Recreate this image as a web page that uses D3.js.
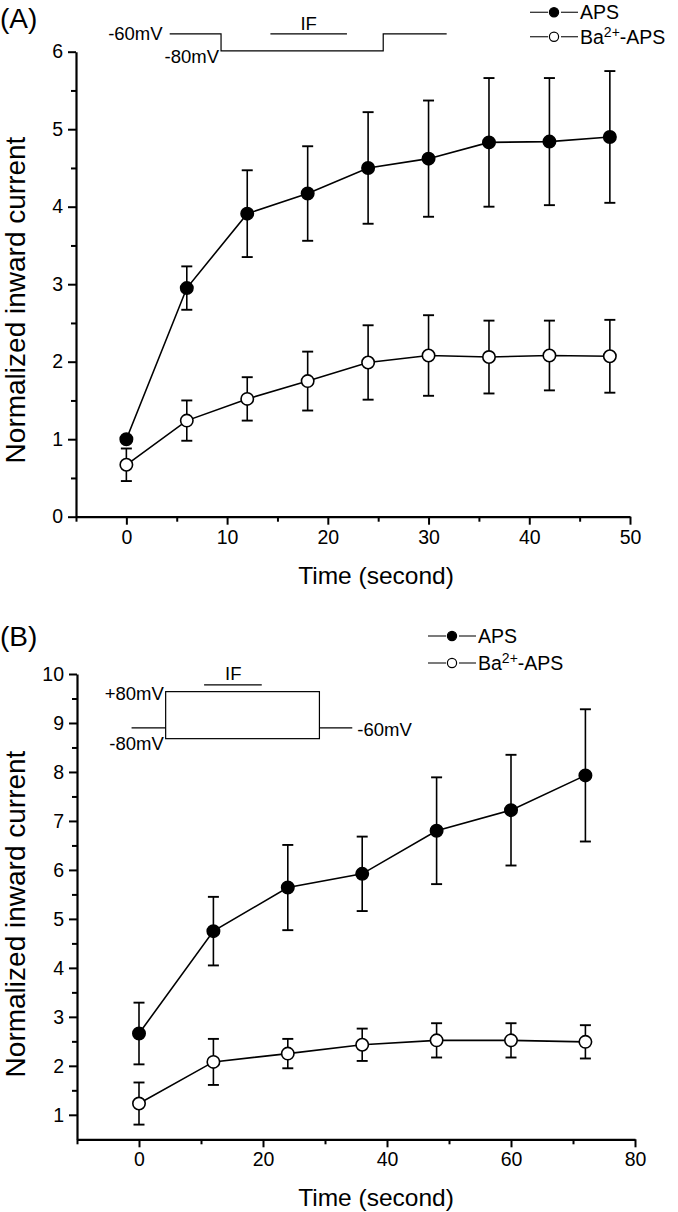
<!DOCTYPE html>
<html>
<head>
<meta charset="utf-8">
<script src="https://cdn.jsdelivr.net/npm/d3@7"></script>
<style>
  html, body { margin: 0; padding: 0; background: #fff; }
  svg { display: block; }
  text { font-family: "Liberation Sans", Arial, sans-serif; fill: #000; }
</style>
</head>
<body>
<script>
// ---------------- DATA ----------------
// Panel A
const timeA = [0, 6, 12, 18, 24, 30, 36, 42, 48];
const apsA = [1.0, 2.95, 3.91, 4.17, 4.50, 4.62, 4.83, 4.84, 4.90];
const apsErrA = [0.0, 0.28, 0.56, 0.61, 0.72, 0.75, 0.83, 0.82, 0.85];
const baA = [0.67, 1.24, 1.52, 1.75, 1.99, 2.08, 2.06, 2.08, 2.07];
const baErrA = [0.21, 0.26, 0.28, 0.38, 0.48, 0.52, 0.47, 0.45, 0.47];
const xTicksA = [0, 10, 20, 30, 40, 50];
const yTicksA = [0, 1, 2, 3, 4, 5, 6];

// Panel B
const timeB = [0, 12, 24, 36, 48, 60, 72];
const apsB = [2.66, 4.75, 5.64, 5.92, 6.80, 7.22, 7.93];
const apsErrB = [0.63, 0.70, 0.87, 0.76, 1.09, 1.13, 1.35];
const baB = [1.23, 2.08, 2.25, 2.43, 2.52, 2.52, 2.49];
const baErrB = [0.43, 0.47, 0.30, 0.33, 0.35, 0.35, 0.34];
const xTicksB = [0, 20, 40, 60, 80];
const yTicksB = [1, 2, 3, 4, 5, 6, 7, 8, 9, 10];

const seriesNames = ["APS", "Ba2+-APS"];
const yTitle = "Normalized inward current";
const xTitle = "Time (second)";

// ---------------- SVG ----------------
const W = 678, H = 1212;
const svg = d3.select("body").append("svg").attr("width", W).attr("height", H);
const INSET_FS = 18.5;

function drawPanel(cfg) {
  const g = svg.append("g");
  const x = d3.scaleLinear().domain(cfg.xDomain).range(cfg.xRange);
  const y = d3.scaleLinear().domain(cfg.yDomain).range(cfg.yRange);

  const xMinor = d3.range(cfg.xDomain[0], cfg.xDomain[1] + 0.001, cfg.xMinorStep).filter(v => !cfg.xTicks.includes(v));
  const yMinor = d3.range(cfg.yDomain[0], cfg.yDomain[1] + 0.001, cfg.yMinorStep).filter(v => !cfg.yTicks.includes(v) && v > cfg.yDomain[0] + 1e-6);

  const xAxisY = cfg.yRange[0];
  const yAxisX = cfg.xRange[0];

  // x axis
  const xa = g.append("g").attr("transform", `translate(0,${xAxisY})`)
    .call(d3.axisBottom(x).tickValues(cfg.xTicks).tickSize(8).tickSizeOuter(0).tickPadding(5).tickFormat(d3.format("d")));
  xa.select(".domain").attr("stroke-width", 2.2);
  xa.selectAll(".tick line").attr("stroke-width", 2);
  xa.selectAll(".tick text").attr("font-size", 19.5).attr("font-family", "Liberation Sans, Arial");
  g.append("g").attr("transform", `translate(0,${xAxisY})`)
    .call(d3.axisBottom(x).tickValues(xMinor).tickSize(5).tickSizeOuter(0).tickFormat(""))
    .call(s => s.select(".domain").remove())
    .selectAll(".tick line").attr("stroke-width", 2);

  // y axis
  const ya = g.append("g").attr("transform", `translate(${yAxisX},0)`)
    .call(d3.axisLeft(y).tickValues(cfg.yTicks).tickSize(8).tickSizeOuter(0).tickPadding(5).tickFormat(d3.format("d")));
  ya.select(".domain").attr("stroke-width", 2.2);
  ya.selectAll(".tick line").attr("stroke-width", 2);
  ya.selectAll(".tick text").attr("font-size", 19.5).attr("font-family", "Liberation Sans, Arial");
  g.append("g").attr("transform", `translate(${yAxisX},0)`)
    .call(d3.axisLeft(y).tickValues(yMinor).tickSize(5).tickSizeOuter(0).tickFormat(""))
    .call(s => s.select(".domain").remove())
    .selectAll(".tick line").attr("stroke-width", 2);

  // titles
  g.append("text").attr("x", cfg.xTitlePos[0]).attr("y", cfg.xTitlePos[1])
    .attr("text-anchor", "middle").attr("font-size", 24.5).text(xTitle);
  g.append("text").attr("transform", `translate(${cfg.yTitlePos[0]},${cfg.yTitlePos[1]}) rotate(-90)`)
    .attr("text-anchor", "middle").attr("font-size", 28).text(yTitle);
  g.append("text").attr("x", cfg.labelPos[0]).attr("y", cfg.labelPos[1])
    .attr("font-size", 28).text(cfg.label);

  // series
  const series = [
    { t: cfg.time, v: cfg.aps, e: cfg.apsErr, fill: "#000" },
    { t: cfg.time, v: cfg.ba, e: cfg.baErr, fill: "#fff" }
  ];
  const line = d3.line().x(d => x(d[0])).y(d => y(d[1]));
  series.forEach(s => {
    const pts = s.t.map((t, i) => [t, s.v[i], s.e[i]]);
    g.append("path").datum(pts).attr("d", line).attr("fill", "none").attr("stroke", "#000").attr("stroke-width", 1.6);
    const eb = g.append("g");
    pts.filter(p => p[2] > 0).forEach(p => {
      const cx = x(p[0]);
      eb.append("line").attr("x1", cx).attr("x2", cx).attr("y1", y(p[1] + p[2])).attr("y2", y(p[1] - p[2]))
        .attr("stroke", "#000").attr("stroke-width", 1.6);
      [p[1] + p[2], p[1] - p[2]].forEach(v => {
        eb.append("line").attr("x1", cx - 5.5).attr("x2", cx + 5.5).attr("y1", y(v)).attr("y2", y(v))
          .attr("stroke", "#000").attr("stroke-width", 1.9);
      });
    });
    g.selectAll(null).data(pts).enter().append("circle")
      .attr("cx", d => x(d[0])).attr("cy", d => y(d[1])).attr("r", 6.2)
      .attr("fill", s.fill).attr("stroke", "#000").attr("stroke-width", 1.6);
  });

  // legend
  const lg = g.append("g");
  [0, 1].forEach(i => {
    const ly = cfg.legend.y[i];
    const lx = cfg.legend.x;
    lg.append("line").attr("x1", lx).attr("x2", lx + 18).attr("y1", ly).attr("y2", ly).attr("stroke", "#333").attr("stroke-width", 1.3);
    lg.append("circle").attr("cx", lx + 24).attr("cy", ly).attr("r", 4.6)
      .attr("fill", i === 0 ? "#000" : "#fff").attr("stroke", "#000").attr("stroke-width", 1.2);
    lg.append("line").attr("x1", lx + 31).attr("x2", lx + 48).attr("y1", ly).attr("y2", ly).attr("stroke", "#333").attr("stroke-width", 1.3);
    const t = lg.append("text").attr("x", lx + 50).attr("y", ly + 7).attr("font-size", 19.5);
    if (i === 0) t.text(seriesNames[0]);
    else {
      t.append("tspan").text("Ba");
      t.append("tspan").attr("font-size", 14).attr("dy", -7).text("2+");
      t.append("tspan").attr("dy", 7).text("-APS");
    }
  });

  cfg.inset(g, x, y);
}

// Panel A
drawPanel({
  label: "(A)", labelPos: [0, 28],
  xDomain: [-5, 50], xRange: [76, 630], xTicks: xTicksA, xMinorStep: 5,
  yDomain: [0, 6], yRange: [516.7, 51.7], yTicks: yTicksA, yMinorStep: 0.5,
  time: timeA, aps: apsA, apsErr: apsErrA, ba: baA, baErr: baErrA,
  xTitlePos: [376, 584], yTitlePos: [25, 300],
  legend: { x: 530, y: [12.3, 36.7] },
  inset: (g, x, y) => {
    const hi = 6.23, lo = 6.01;
    const pts = [[4.3, hi], [9.4, hi], [9.4, lo], [25.5, lo], [25.5, hi], [31.8, hi]];
    g.append("path").datum(pts).attr("d", d3.line().x(d => x(d[0])).y(d => y(d[1])))
      .attr("fill", "none").attr("stroke", "#000").attr("stroke-width", 1.2);
    g.append("line").attr("x1", x(14.3)).attr("x2", x(21.9)).attr("y1", y(hi)).attr("y2", y(hi))
      .attr("stroke", "#000").attr("stroke-width", 1.2);
    g.append("text").attr("x", x(18.1)).attr("y", 29.5).attr("text-anchor", "middle").attr("font-size", INSET_FS).text("IF");
    g.append("text").attr("x", x(3.6)).attr("y", 39.5).attr("text-anchor", "end").attr("font-size", INSET_FS).text("-60mV");
    g.append("text").attr("x", x(9.2)).attr("y", 63).attr("text-anchor", "end").attr("font-size", INSET_FS).text("-80mV");
  }
});

// Panel B
drawPanel({
  label: "(B)", labelPos: [0, 646],
  xDomain: [-10, 80], xRange: [77, 635], xTicks: xTicksB, xMinorStep: 10,
  yDomain: [0.5, 10], yRange: [1139.3, 674], yTicks: yTicksB, yMinorStep: 0.5,
  time: timeB, aps: apsB, apsErr: apsErrB, ba: baB, baErr: baErrB,
  xTitlePos: [376, 1206], yTitlePos: [25, 914],
  legend: { x: 428, y: [636, 663] },
  inset: (g, x, y) => {
    const top = 9.64, bot = 8.68, base = 8.9;
    const t0 = 4.3, t1 = 29.1;
    g.append("line").attr("x1", x(-1.2)).attr("x2", x(t0)).attr("y1", y(base)).attr("y2", y(base)).attr("stroke", "#000").attr("stroke-width", 1.2);
    g.append("rect").attr("x", x(t0)).attr("y", y(top)).attr("width", x(t1) - x(t0)).attr("height", y(bot) - y(top))
      .attr("fill", "none").attr("stroke", "#000").attr("stroke-width", 1.2);
    g.append("line").attr("x1", x(t1)).attr("x2", x(34.4)).attr("y1", y(base)).attr("y2", y(base)).attr("stroke", "#000").attr("stroke-width", 1.2);
    g.append("line").attr("x1", x(10.5)).attr("x2", x(19.8)).attr("y1", y(9.78)).attr("y2", y(9.78)).attr("stroke", "#000").attr("stroke-width", 1.2);
    g.append("text").attr("x", x(15.2)).attr("y", 680).attr("text-anchor", "middle").attr("font-size", INSET_FS).text("IF");
    g.append("text").attr("x", x(4.0)).attr("y", 700).attr("text-anchor", "end").attr("font-size", INSET_FS).text("+80mV");
    g.append("text").attr("x", x(4.0)).attr("y", 750).attr("text-anchor", "end").attr("font-size", INSET_FS).text("-80mV");
    g.append("text").attr("x", x(35.2)).attr("y", 736).attr("font-size", INSET_FS).text("-60mV");
  }
});
</script>
</body>
</html>
